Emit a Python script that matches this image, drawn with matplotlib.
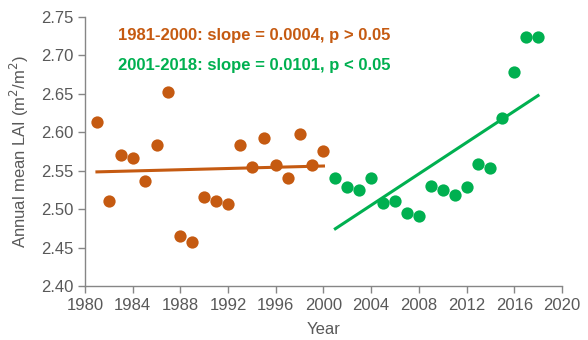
import matplotlib.pyplot as plt
import numpy as np

plt.rcParams['font.family'] = ['Liberation Sans', 'DejaVu Sans']

years1 = list(range(1981, 2001))
lai1 = [2.613, 2.510, 2.570, 2.566, 2.537, 2.583, 2.653, 2.465, 2.457, 2.516,
        2.510, 2.506, 2.583, 2.555, 2.592, 2.557, 2.541, 2.598, 2.558, 2.575]
years2 = list(range(2001, 2019))
lai2 = [2.541, 2.529, 2.525, 2.541, 2.508, 2.510, 2.495, 2.491, 2.530, 2.525,
        2.519, 2.529, 2.559, 2.554, 2.618, 2.678, 2.724, 2.724]

orange = '#C55A11'
green = '#00B050'
grey = '#595959'

fig = plt.figure(figsize=(5.88, 3.40), dpi=100)
ax = fig.add_axes([0.1446, 0.159, 0.811, 0.791])

ax.scatter(years1, lai1, s=78, color=orange, zorder=3, linewidths=0)
ax.scatter(years2, lai2, s=78, color=green, zorder=3, linewidths=0)

# linear trends
k1, b1 = np.polyfit(years1, lai1, 1)
k2, b2 = np.polyfit(years2, lai2, 1)
x1 = np.array([years1[0], years1[-1]])
x2 = np.array([years2[0], years2[-1]])
ax.plot(x1, k1 * x1 + b1, color=orange, lw=2.2, zorder=2)
ax.plot(x2, k2 * x2 + b2, color=green, lw=2.2, zorder=2)

ax.text(0.069, 0.933, '1981-2000: slope = 0.0004, p > 0.05', transform=ax.transAxes,
        color=orange, fontsize=12, fontweight='bold', va='center')
ax.text(0.069, 0.82, '2001-2018: slope = 0.0101, p < 0.05', transform=ax.transAxes,
        color=green, fontsize=12, fontweight='bold', va='center')

ax.set_xlim(1980, 2020)
ax.set_ylim(2.40, 2.75)
ax.set_xticks(range(1980, 2021, 4))
ax.set_yticks(np.arange(2.40, 2.751, 0.05))
ax.set_yticklabels(['%.2f' % v for v in np.arange(2.40, 2.751, 0.05)])

for s in ['top', 'right']:
    ax.spines[s].set_visible(False)
for s in ['left', 'bottom']:
    ax.spines[s].set_color('#868686')
    ax.spines[s].set_linewidth(1.0)
ax.tick_params(colors='#868686', labelcolor=grey, labelsize=12, length=5, width=1)

ax.set_xlabel('Year', color=grey, fontsize=12, labelpad=7)
ax.set_ylabel('Annual mean LAI (m$^2$/m$^2$)', color=grey, fontsize=12, labelpad=7)

fig.savefig('out.png', dpi=100)
